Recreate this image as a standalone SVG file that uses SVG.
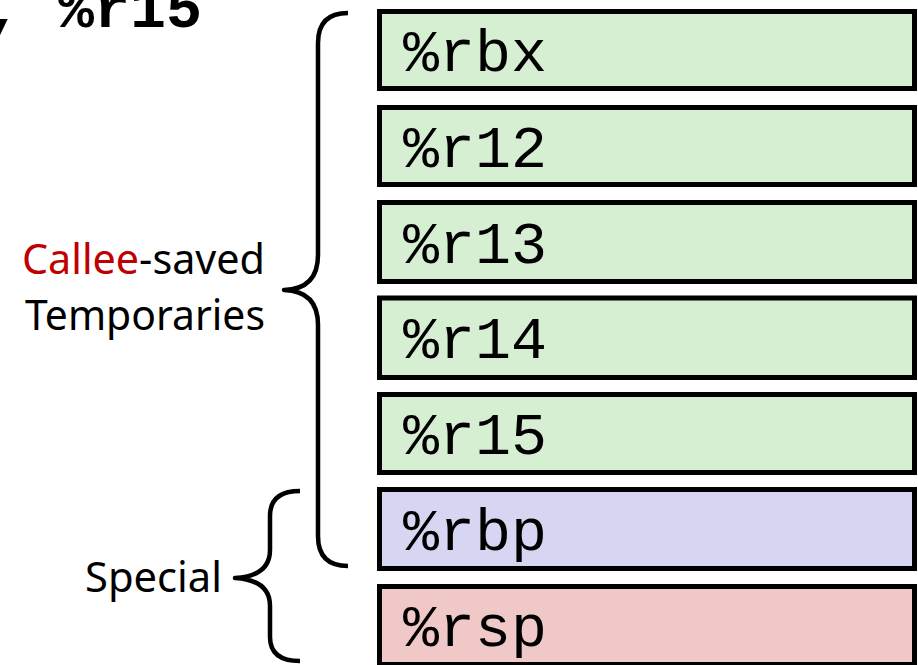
<svg xmlns="http://www.w3.org/2000/svg" width="918" height="665" viewBox="0 0 918 665">
<style>
.box{stroke:#000;stroke-width:5}
.g{fill:#D6EFD2}
.b{fill:#D6D6F2}
.p{fill:#F0C8C8}
.reg{font-family:"Liberation Mono","Courier New",monospace;font-size:60px;fill:#000}
.lbl{font-family:"Noto Sans","Liberation Sans",sans-serif;font-size:42px;fill:#000}
.brace{fill:none;stroke:#000;stroke-width:4.5;stroke-linecap:butt;stroke-linejoin:round}
</style>
<rect width="918" height="665" fill="#fff"/>
<text x="-14" y="27" class="reg" font-weight="bold">, %r15</text>
<g id="rbx"><rect class="box g" x="379.5" y="11.5" width="535" height="77"/><text class="reg" x="403" y="71">%rbx</text></g>
<g id="r12"><rect class="box g" x="379.5" y="107.5" width="535" height="77"/><text class="reg" x="403" y="167">%r12</text></g>
<g id="r13"><rect class="box g" x="379.5" y="202.5" width="535" height="79"/><text class="reg" x="403" y="263">%r13</text></g>
<g id="r14"><rect class="box g" x="379.5" y="298" width="535" height="79.5"/><text class="reg" x="403" y="358">%r14</text></g>
<g id="r15"><rect class="box g" x="379.5" y="394.5" width="535" height="78"/><text class="reg" x="403" y="454">%r15</text></g>
<g id="rbp"><rect class="box b" x="379.5" y="489.5" width="535" height="79"/><text class="reg" x="403" y="550">%rbp</text></g>
<g id="rsp"><rect class="box p" x="379.5" y="586.5" width="535" height="78"/><text class="reg" x="403" y="646">%rsp</text></g>
<g id="callee-label"><text class="lbl" x="22" y="274" textLength="243" lengthAdjust="spacingAndGlyphs"><tspan fill="#C00000">Callee</tspan>-saved</text>
<text class="lbl" x="25" y="330" textLength="240" lengthAdjust="spacingAndGlyphs">Temporaries</text></g>
<g id="special-label"><text class="lbl" x="85" y="592" textLength="137" lengthAdjust="spacingAndGlyphs">Special</text></g>
<g id="connectors">
<path class="brace" d="M348,13 Q318,13 318,43 L318,255 Q318,289 284,290 Q318,291 318,325 L318,536 Q318,566 348,566"/>
<path class="brace" d="M300,491 Q270,491 270,516 L270,550 Q270,576 235,578 Q270,580 270,606 L270,637 Q270,661 300,661"/>
</g>
</svg>
